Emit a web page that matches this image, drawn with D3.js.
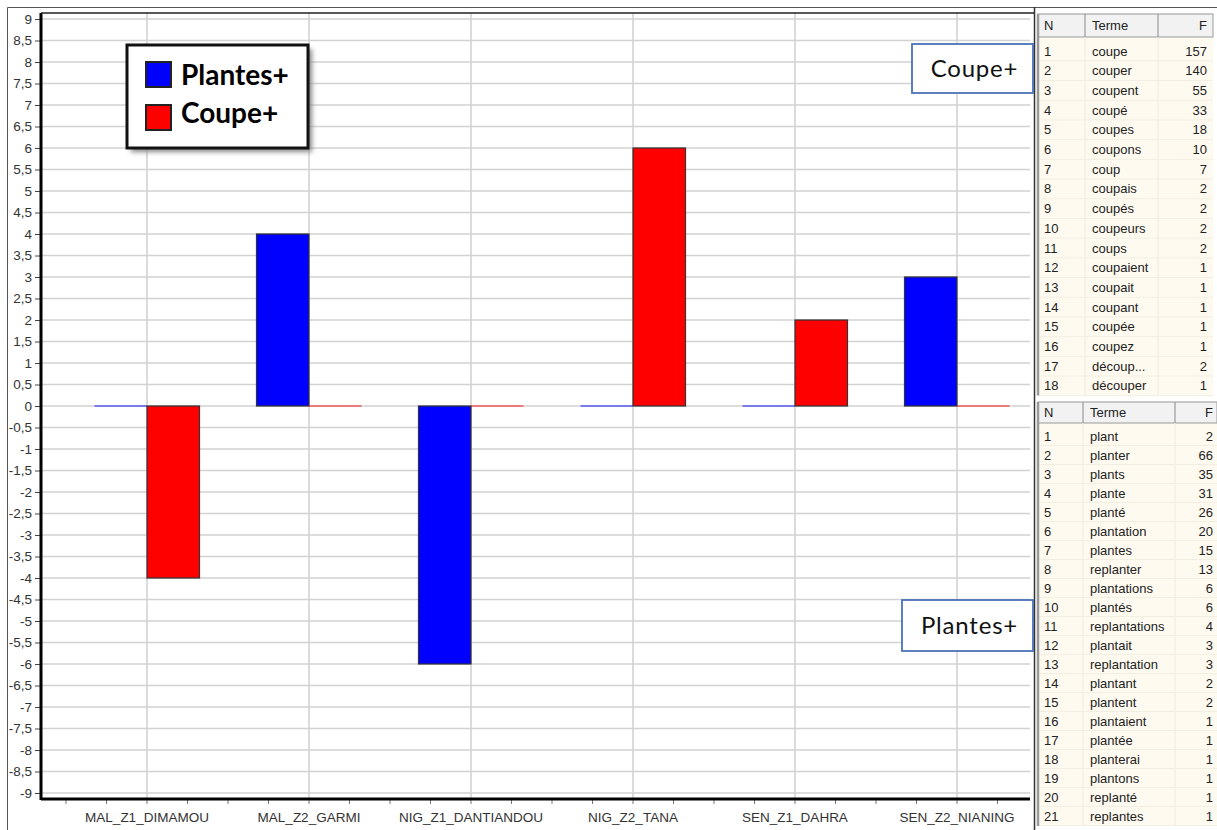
<!DOCTYPE html>
<html><head><meta charset="utf-8">
<script src="https://cdn.jsdelivr.net/npm/d3@7"></script>
<style>
html,body{margin:0;padding:0;background:#fff;}
svg{display:block;}
</style></head>
<body>
<svg id="chart" width="1217" height="830"></svg>
<script>
const categories = ["MAL_Z1_DIMAMOU","MAL_Z2_GARMI","NIG_Z1_DANTIANDOU","NIG_Z2_TANA","SEN_Z1_DAHRA","SEN_Z2_NIANING"];
const seriesNames = ["Plantes+","Coupe+"];
const plantesValues = [0, 4, -6, 0, 0, 3];
const coupeValues = [-4, 0, 0, 6, 2, 0];
const seriesColors = ["#0000ff","#ff0000"];
const yTicks = d3.range(-9, 9.001, 0.5);

const coupeN = d3.range(1, 19);
const coupeTerms = ["coupe","couper","coupent","coupé","coupes","coupons","coup","coupais","coupés","coupeurs","coups","coupaient","coupait","coupant","coupée","coupez","découp...","découper"];
const coupeFreq = [157,140,55,33,18,10,7,2,2,2,2,1,1,1,1,1,2,1];
const plantesN = d3.range(1, 22);
const plantesTerms = ["plant","planter","plants","plante","planté","plantation","plantes","replanter","plantations","plantés","replantations","plantait","replantation","plantant","plantent","plantaient","plantée","planterai","plantons","replanté","replantes"];
const plantesFreq = [2,66,35,31,26,20,15,13,6,6,4,3,3,2,2,1,1,1,1,1,1];
const tableHeaders = ["N","Terme","F"];

const svg = d3.select("#chart");
const defs = svg.append("defs");
const f = defs.append("filter").attr("id","sh").attr("x","-20%").attr("y","-20%").attr("width","150%").attr("height","160%");
f.append("feGaussianBlur").attr("stdDeviation",2.5);

// layout
const plotL = 41, plotR = 1030, plotT = 13, plotB = 799;
const y = d3.scaleLinear().domain([-9, 9]).range([793, 19]);
const x0 = d3.scaleBand().domain(categories).range([66, 1038]);
const x1 = d3.scaleBand().domain(seriesNames).range([-52.5, 52.5]);
const values = [plantesValues, coupeValues];

// outer frame
svg.append("path").attr("d","M7.5,830 V7.5 H1217").attr("fill","none").attr("stroke","#555").attr("stroke-width",1);

// horizontal grid
svg.append("g").selectAll("line").data(yTicks).join("line")
  .attr("x1", plotL).attr("x2", plotR).attr("y1", d=>y(d)).attr("y2", d=>y(d))
  .attr("stroke","#d2d2d2").attr("stroke-width",1.6);
// vertical grid
svg.append("g").selectAll("line").data(categories).join("line")
  .attr("x1", d=>x0(d)+x0.bandwidth()/2).attr("x2", d=>x0(d)+x0.bandwidth()/2)
  .attr("y1", plotT).attr("y2", plotB)
  .attr("stroke","#d2d2d2").attr("stroke-width",1.6);

// bars
seriesNames.forEach((s, si) => {
  const g = svg.append("g");
  const data = categories.map((c, i) => ({c, v: values[si][i]}));
  g.selectAll("rect").data(data.filter(d=>d.v!==0)).join("rect")
    .attr("x", d => x0(d.c)+x0.bandwidth()/2 + x1(s))
    .attr("width", x1.bandwidth())
    .attr("y", d => y(Math.max(0,d.v)))
    .attr("height", d => Math.abs(y(d.v)-y(0)))
    .attr("fill", seriesColors[si]).attr("stroke","#333").attr("stroke-width",1.2);
  g.selectAll("line").data(data.filter(d=>d.v===0)).join("line")
    .attr("x1", d => x0(d.c)+x0.bandwidth()/2 + x1(s))
    .attr("x2", d => x0(d.c)+x0.bandwidth()/2 + x1(s) + x1.bandwidth())
    .attr("y1", y(0)).attr("y2", y(0))
    .attr("stroke", seriesColors[si]).attr("stroke-opacity",0.6).attr("stroke-width",1.5);
});

// y axis
const yAxis = svg.append("g").attr("transform",`translate(${plotL},0)`)
  .call(d3.axisLeft(y).tickValues(yTicks).tickSize(6).tickPadding(3)
    .tickFormat(d => String(d).replace(".",",")));
yAxis.select(".domain").remove();
yAxis.selectAll("text").attr("font-family","Liberation Sans, Arial, sans-serif").attr("font-size",13.5).attr("fill","#333");
yAxis.selectAll("line").attr("stroke","#444");
// x axis ticks
const minor = d3.range(0, 25).map(i => 66 + i*40.5);
svg.append("g").selectAll("line").data(minor).join("line")
  .attr("x1", d=>d).attr("x2", d=>d).attr("y1", plotB).attr("y2", plotB+5)
  .attr("stroke","#777").attr("stroke-width",1);
svg.append("g").selectAll("text").data(categories).join("text")
  .attr("x", d=>x0(d)+x0.bandwidth()/2).attr("y", 822)
  .attr("text-anchor","middle").attr("font-family","Liberation Sans, Arial, sans-serif")
  .attr("font-size",13.5).attr("fill","#333").text(d=>d);

// axis lines
svg.append("line").attr("x1",plotL).attr("x2",plotL).attr("y1",plotT).attr("y2",plotB+1)
  .attr("stroke","#000").attr("stroke-width",3);
svg.append("line").attr("x1",plotL).attr("x2",plotR).attr("y1",plotB).attr("y2",plotB)
  .attr("stroke","#000").attr("stroke-width",3);
svg.append("line").attr("x1",plotL).attr("x2",1035).attr("y1",plotT).attr("y2",plotT)
  .attr("stroke","#222").attr("stroke-width",1.5);
svg.append("line").attr("x1",1034.5).attr("x2",1034.5).attr("y1",7).attr("y2",830)
  .attr("stroke","#333").attr("stroke-width",1.5);

// legend
const lg = svg.append("g");
lg.append("rect").attr("x",131).attr("y",49).attr("width",181).attr("height",103).attr("fill","#888").attr("filter","url(#sh)");
lg.append("rect").attr("x",127).attr("y",45).attr("width",181).attr("height",103).attr("fill","#fff").attr("stroke","#111").attr("stroke-width",3);
seriesNames.forEach((s, i) => {
  lg.append("rect").attr("x",146).attr("y",62+i*43).attr("width",25).attr("height",25)
    .attr("fill",seriesColors[i]).attr("stroke","#222").attr("stroke-width",2);
  lg.append("text").attr("x",181).attr("y",85+i*38).attr("font-family","Lato, sans-serif")
    .attr("font-weight","bold").attr("font-size",28).attr("fill","#000").text(s);
});

// callouts
const callouts = [{t:"Coupe+", x:912, y:44, w:121, h:49}, {t:"Plantes+", x:902, y:600, w:131, h:51}];
callouts.forEach(c => {
  svg.append("rect").attr("x",c.x).attr("y",c.y).attr("width",c.w).attr("height",c.h)
    .attr("fill","#fff").attr("stroke","#4a72b8").attr("stroke-width",1.8);
  svg.append("text").attr("x",c.x+c.w/2+2).attr("y",c.y+c.h/2+8).attr("text-anchor","middle")
    .attr("font-family","Lato, sans-serif").attr("font-size",24).attr("letter-spacing",0.8).attr("fill","#111").text(c.t);
});

// tables
function drawTable(ns, terms, freqs, opt) {
  const g = svg.append("g");
  const L = opt.left, cols = opt.cols, R = opt.right;
  // body bg
  g.append("rect").attr("x",L).attr("y",opt.headTop+opt.headH).attr("width",R-L).attr("height",ns.length*opt.rowH+4).attr("fill","#fefaf0");
  // header
  g.append("rect").attr("x",L).attr("y",opt.headTop).attr("width",R-L).attr("height",opt.headH).attr("fill","#f2f2f2").attr("stroke","#a8a8a8").attr("stroke-width",1.2);
  cols.forEach(cx => g.append("line").attr("x1",cx).attr("x2",cx).attr("y1",opt.headTop).attr("y2",opt.headTop+opt.headH).attr("stroke","#999").attr("stroke-width",1.2));
  cols.forEach(cx => g.append("line").attr("x1",cx).attr("x2",cx).attr("y1",opt.headTop+opt.headH).attr("y2",opt.headTop+opt.headH+ns.length*opt.rowH+4).attr("stroke","#f0eadc").attr("stroke-width",1));
  // row separators
  g.selectAll("line.rs").data(ns).join("line").attr("class","rs")
    .attr("x1",L).attr("x2",R).attr("y1",(d,i)=>opt.firstY+opt.rowH*(i+0.5)).attr("y2",(d,i)=>opt.firstY+opt.rowH*(i+0.5))
    .attr("stroke","#f3eee2").attr("stroke-width",1);
  const hy = opt.headTop+opt.headH/2+4.5;
  const font = "Liberation Sans, Arial, sans-serif";
  g.append("text").attr("x",L+6).attr("y",hy).text(tableHeaders[0]);
  g.append("text").attr("x",cols[0]+7).attr("y",hy).text(tableHeaders[1]);
  g.append("text").attr("x",opt.fRight).attr("y",hy).attr("text-anchor","end").text(tableHeaders[2]);
  const rows = g.selectAll("g.row").data(ns.map((n,i)=>({n, t:terms[i], f:freqs[i], i}))).join("g").attr("class","row");
  rows.append("text").attr("x",L+6).attr("y",d=>opt.firstY+opt.rowH*d.i+4.5).text(d=>d.n);
  rows.append("text").attr("x",cols[0]+7).attr("y",d=>opt.firstY+opt.rowH*d.i+4.5).text(d=>d.t);
  rows.append("text").attr("x",opt.fRight).attr("y",d=>opt.firstY+opt.rowH*d.i+4.5).attr("text-anchor","end").text(d=>d.f);
  g.selectAll("text").attr("font-family",font).attr("font-size",13).attr("fill","#222");
  // left border
  g.append("line").attr("x1",L).attr("x2",L).attr("y1",opt.headTop).attr("y2",opt.headTop+opt.headH+ns.length*opt.rowH+4).attr("stroke","#999").attr("stroke-width",2.5);
}
drawTable(coupeN, coupeTerms, coupeFreq, {left:1038, right:1213, cols:[1085,1158], headTop:14, headH:23, firstY:51, rowH:19.7, fRight:1207});
drawTable(plantesN, plantesTerms, plantesFreq, {left:1038, right:1217, cols:[1083,1175], headTop:402, headH:21, firstY:436, rowH:19, fRight:1213});
</script>
</body></html>
